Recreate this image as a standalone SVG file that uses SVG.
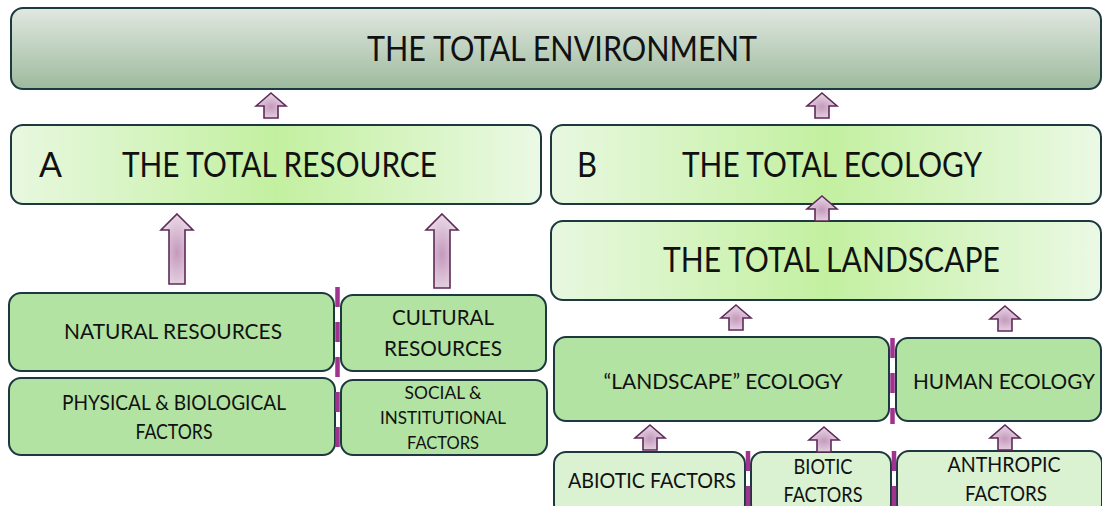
<svg xmlns="http://www.w3.org/2000/svg" width="1102" height="506" viewBox="0 0 1102 506">
  <defs>
    <linearGradient id="gEnv" x1="0" y1="0" x2="0" y2="1">
      <stop offset="0" stop-color="#e1e8e1"/>
      <stop offset="1" stop-color="#9dba9d"/>
    </linearGradient>
    <linearGradient id="gTotal" x1="0" y1="0" x2="1" y2="0">
      <stop offset="0" stop-color="#e8f8e0"/>
      <stop offset="0.5" stop-color="#c3f0a0"/>
      <stop offset="1" stop-color="#ebf9e5"/>
    </linearGradient>
    <radialGradient id="gArrow" cx="0.5" cy="0.55" r="0.6">
      <stop offset="0" stop-color="#c599bd"/>
      <stop offset="1" stop-color="#ece0ea"/>
    </radialGradient>
    <path id="arrowS" d="M0,0 L15,13 L7,13 L7,25 L-7,25 L-7,13 L-15,13 Z"/>
    <path id="arrowL" d="M0,0 L16,16 L8,16 L8,70 L-8,70 L-8,16 L-16,16 Z"/>
    <path id="arrowL2" d="M0,0 L16,16 L8,16 L8,74 L-8,74 L-8,16 L-16,16 Z"/>
    <style>
      .box { stroke: #1d3940; stroke-width: 2; }
      .env { fill: url(#gEnv); }
      .total { fill: url(#gTotal); }
      .mid { fill: #b2e3a2; }
      .low { fill: #daf1d2; }
      text { font-family: Lato, "Open Sans", "Liberation Sans", sans-serif; fill: #111; }
      .big { font-size: 35px; }
      .med { font-size: 21px; text-anchor: middle; }
      .sm { font-size: 18px; text-anchor: middle; }
      .arrow { fill: url(#gArrow); stroke: #5e2a58; stroke-width: 1.6; stroke-linejoin: miter; }
      .divider { stroke: #a0338f; stroke-width: 4.5; stroke-dasharray: 20 15; fill: none; }
    </style>
  </defs>

  <rect width="1102" height="506" fill="#ffffff"/>

  <!-- top level -->
  <g id="total-environment">
    <rect class="box env" x="11" y="8" width="1090" height="81" rx="12"/>
    <text class="big" x="367" y="61" font-size="32" textLength="390" lengthAdjust="spacingAndGlyphs">THE TOTAL ENVIRONMENT</text>
  </g>

  <!-- branch A -->
  <g id="total-resource">
    <rect class="box total" x="11" y="125" width="530" height="79" rx="12"/>
    <text class="big" x="39" y="177" textLength="23" lengthAdjust="spacingAndGlyphs">A</text>
    <text class="big" x="122" y="177" textLength="315" lengthAdjust="spacingAndGlyphs">THE TOTAL RESOURCE</text>
  </g>
  <g id="natural-resources">
    <rect class="box mid" x="9" y="293" width="325" height="78" rx="12"/>
    <text class="med" x="173" y="339" textLength="218" lengthAdjust="spacingAndGlyphs">NATURAL RESOURCES</text>
  </g>
  <g id="cultural-resources">
    <rect class="box mid" x="341" y="295" width="205" height="76" rx="12"/>
    <text class="med" x="443" y="325" textLength="102" lengthAdjust="spacingAndGlyphs">CULTURAL</text>
    <text class="med" x="443" y="356" textLength="118" lengthAdjust="spacingAndGlyphs">RESOURCES</text>
  </g>
  <g id="physical-biological">
    <rect class="box mid" x="9" y="378" width="326" height="77" rx="12"/>
    <text class="med" x="174" y="410" textLength="224" lengthAdjust="spacingAndGlyphs">PHYSICAL &amp; BIOLOGICAL</text>
    <text class="med" x="174" y="439" textLength="77" lengthAdjust="spacingAndGlyphs">FACTORS</text>
  </g>
  <g id="social-institutional">
    <rect class="box mid" x="341" y="380" width="206" height="75" rx="12"/>
    <text class="sm" x="443" y="399" textLength="77" lengthAdjust="spacingAndGlyphs">SOCIAL &amp;</text>
    <text class="sm" x="443" y="424" textLength="126" lengthAdjust="spacingAndGlyphs">INSTITUTIONAL</text>
    <text class="sm" x="443" y="449" textLength="72" lengthAdjust="spacingAndGlyphs">FACTORS</text>
  </g>

  <!-- branch B -->
  <g id="total-ecology">
    <rect class="box total" x="551" y="125" width="550" height="79" rx="12"/>
    <text class="big" x="577" y="177" textLength="20" lengthAdjust="spacingAndGlyphs">B</text>
    <text class="big" x="682" y="177" textLength="300" lengthAdjust="spacingAndGlyphs">THE TOTAL ECOLOGY</text>
  </g>
  <g id="total-landscape">
    <rect class="box total" x="551" y="221" width="550" height="79" rx="12"/>
    <text class="big" x="663" y="272" font-size="34" textLength="337" lengthAdjust="spacingAndGlyphs">THE TOTAL LANDSCAPE</text>
  </g>
  <g id="landscape-ecology">
    <rect class="box mid" x="554" y="337" width="335" height="84" rx="12"/>
    <text class="med" x="723" y="389" font-size="22" textLength="239" lengthAdjust="spacingAndGlyphs">“LANDSCAPE” ECOLOGY</text>
  </g>
  <g id="human-ecology">
    <rect class="box mid" x="896" y="338" width="205" height="83" rx="12"/>
    <text class="med" x="1004" y="389" font-size="22" textLength="182" lengthAdjust="spacingAndGlyphs">HUMAN ECOLOGY</text>
  </g>
  <g id="abiotic-factors">
    <rect class="box low" x="554" y="452" width="191" height="64" rx="12"/>
    <text class="med" x="652" y="488" textLength="168" lengthAdjust="spacingAndGlyphs">ABIOTIC FACTORS</text>
  </g>
  <g id="biotic-factors">
    <rect class="box low" x="751" y="452" width="140" height="64" rx="12"/>
    <text class="med" x="823" y="474" textLength="59" lengthAdjust="spacingAndGlyphs">BIOTIC</text>
    <text class="med" x="823" y="502" textLength="79" lengthAdjust="spacingAndGlyphs">FACTORS</text>
  </g>
  <g id="anthropic-factors">
    <rect class="box low" x="897" y="451" width="205" height="65" rx="12"/>
    <text class="med" x="1004" y="472" textLength="113" lengthAdjust="spacingAndGlyphs">ANTHROPIC</text>
    <text class="med" x="1006" y="501" textLength="82" lengthAdjust="spacingAndGlyphs">FACTORS</text>
  </g>

  <!-- dashed dividers between side-by-side boxes -->
  <g id="dividers">
    <line class="divider" x1="337.5" y1="287" x2="337.5" y2="453"/>
    <line class="divider" x1="892.5" y1="338" x2="892.5" y2="424"/>
    <line class="divider" x1="748" y1="451" x2="748" y2="506"/>
    <line class="divider" x1="894" y1="451" x2="894" y2="506"/>
  </g>

  <!-- upward block arrows -->
  <g id="connectors">
    <use href="#arrowS" class="arrow" x="271" y="93"/>
    <use href="#arrowS" class="arrow" x="822" y="93"/>
    <use href="#arrowS" class="arrow" x="822" y="196"/>
    <use href="#arrowL" class="arrow" x="177" y="214"/>
    <use href="#arrowL2" class="arrow" x="442" y="214"/>
    <use href="#arrowS" class="arrow" x="736" y="305"/>
    <use href="#arrowS" class="arrow" x="1005" y="306"/>
    <use href="#arrowS" class="arrow" x="650" y="425"/>
    <use href="#arrowS" class="arrow" x="824" y="427"/>
    <use href="#arrowS" class="arrow" x="1005" y="425"/>
  </g>
</svg>
